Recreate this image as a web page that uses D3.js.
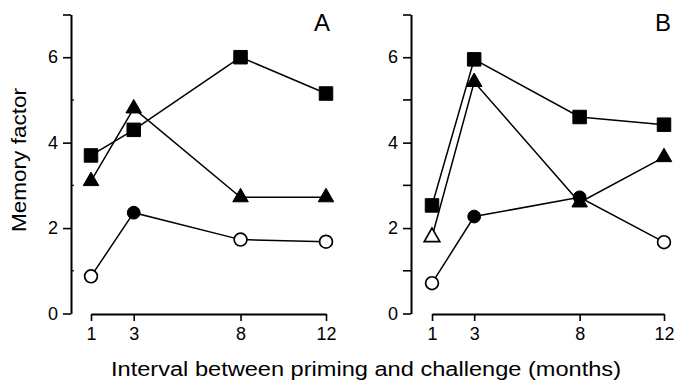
<!DOCTYPE html>
<html>
<head>
<meta charset="utf-8">
<script src="https://cdn.jsdelivr.net/npm/d3@7"></script>
<style>
  html, body { margin: 0; padding: 0; background: #fff; }
  svg { display: block; font-family: "Liberation Sans", Arial, sans-serif; }
</style>
</head>
<body>
<svg id="chart" width="675" height="383"></svg>
<script>
// ---- data ----
const months = [1, 3, 8, 12];
const yMajorTicks = [0, 2, 4, 6];
const yMinorTicks = [1, 3, 5];

const panelLabels = ["A", "B"];

const aSquares = [3.7, 4.3, 6.0, 5.15];
const aTriangles = [3.1, 4.8, 2.72, 2.72];
const aTrianglesFilled = [true, true, true, true];
const aCircles = [0.87, 2.36, 1.73, 1.68];
const aCirclesFilled = [false, true, false, false];

const bSquares = [2.53, 5.95, 4.6, 4.42];
const bTriangles = [1.79, 5.42, 2.6, 3.66];
const bTrianglesFilled = [false, true, true, true];
const bCircles = [0.71, 2.27, 2.72, 1.67];
const bCirclesFilled = [false, true, true, false];

const xTitle = "Interval between priming and challenge (months)";
const yTitle = "Memory factor";

// ---- layout ----
const svg = d3.select("#chart");
const panels = [
  { label: panelLabels[0], yAxisX: 71, x0: 91, x1: 326, labelX: 322, minorOut: false,
    series: [
      { vals: aSquares, shape: "square", filled: [true, true, true, true] },
      { vals: aTriangles, shape: "triangle", filled: aTrianglesFilled },
      { vals: aCircles, shape: "circle", filled: aCirclesFilled }
    ] },
  { label: panelLabels[1], yAxisX: 411, x0: 432, x1: 664, labelX: 663, minorOut: true,
    series: [
      { vals: bSquares, shape: "square", filled: [true, true, true, true] },
      { vals: bTriangles, shape: "triangle", filled: bTrianglesFilled },
      { vals: bCircles, shape: "circle", filled: bCirclesFilled }
    ] }
];

const yTop = 14.5, yBottom = 313.5, xAxisY = 314;
const y = d3.scaleLinear().domain([0, 7]).range([yBottom, yTop]);

const symSize = {
  square: 13.5 * 13.5,
  triangle: 105,
  circle: Math.PI * 6.4 * 6.4
};
const symType = {
  square: d3.symbolSquare,
  triangle: d3.symbolTriangle,
  circle: d3.symbolCircle
};

panels.forEach(p => {
  const x = d3.scaleLinear().domain([1, 12]).range([p.x0, p.x1]);
  const g = svg.append("g");

  // y axis
  const yAxis = d3.axisLeft(y)
    .tickValues(yMajorTicks.concat([7]))
    .tickFormat(d => d === 7 ? "" : d)
    .tickSize(8)
    .tickSizeOuter(0)
    .tickPadding(5);
  const ya = g.append("g")
    .attr("transform", `translate(${p.yAxisX},0)`)
    .call(yAxis);
  ya.selectAll("path.domain").attr("stroke", "#000").attr("stroke-width", 2);
  ya.selectAll(".tick line").attr("stroke", "#000").attr("stroke-width", 1.6);
  ya.selectAll(".tick text")
    .attr("font-size", 18)
    .attr("fill", "#000")
    .attr("font-family", "Liberation Sans, Arial, sans-serif");

  // minor ticks
  g.append("g").selectAll("line")
    .data(yMinorTicks)
    .join("line")
    .attr("x1", p.yAxisX)
    .attr("x2", p.minorOut ? p.yAxisX - 8 : p.yAxisX + 3)
    .attr("y1", d => y(d)).attr("y2", d => y(d))
    .attr("stroke", "#000").attr("stroke-width", p.minorOut ? 1.6 : 1.2);

  // x axis
  const xAxis = d3.axisBottom(x)
    .tickValues(months)
    .tickSize(7)
    .tickSizeOuter(0)
    .tickPadding(6);
  const xa = g.append("g")
    .attr("transform", `translate(0,${xAxisY})`)
    .call(xAxis);
  xa.selectAll("path.domain").attr("stroke", "#000").attr("stroke-width", 2);
  xa.selectAll(".tick line").attr("stroke", "#000").attr("stroke-width", 1.6);
  xa.selectAll(".tick text")
    .attr("font-size", 18)
    .attr("fill", "#000")
    .attr("font-family", "Liberation Sans, Arial, sans-serif");

  // panel label
  g.append("text")
    .attr("x", p.labelX).attr("y", 31)
    .attr("text-anchor", "middle")
    .attr("font-size", 24)
    .attr("fill", "#000")
    .text(p.label);

  // series lines
  const line = d3.line().x((d, i) => x(months[i])).y(d => y(d));
  p.series.forEach(s => {
    g.append("path")
      .attr("d", line(s.vals))
      .attr("fill", "none")
      .attr("stroke", "#000")
      .attr("stroke-width", 1.5);
  });

  // markers
  p.series.forEach(s => {
    const sym = d3.symbol().type(symType[s.shape]).size(symSize[s.shape]);
    g.append("g").selectAll("path")
      .data(s.vals.map((v, i) => ({ v, m: months[i], f: s.filled[i] })))
      .join("path")
      .attr("transform", d => `translate(${x(d.m)},${y(d.v)})`)
      .attr("d", sym())
      .attr("fill", d => d.f ? "#000" : "#fff")
      .attr("stroke", "#000")
      .attr("stroke-width", d => d.f ? 1 : 1.7);
  });
});

// axis titles
svg.append("text")
  .attr("x", 366).attr("y", 376)
  .attr("text-anchor", "middle")
  .attr("font-size", 20)
  .attr("textLength", 510)
  .attr("lengthAdjust", "spacingAndGlyphs")
  .attr("fill", "#000")
  .text(xTitle);

svg.append("text")
  .attr("transform", "translate(26,160) rotate(-90)")
  .attr("text-anchor", "middle")
  .attr("font-size", 20)
  .attr("textLength", 144)
  .attr("lengthAdjust", "spacingAndGlyphs")
  .attr("fill", "#000")
  .text(yTitle);
</script>
</body>
</html>
